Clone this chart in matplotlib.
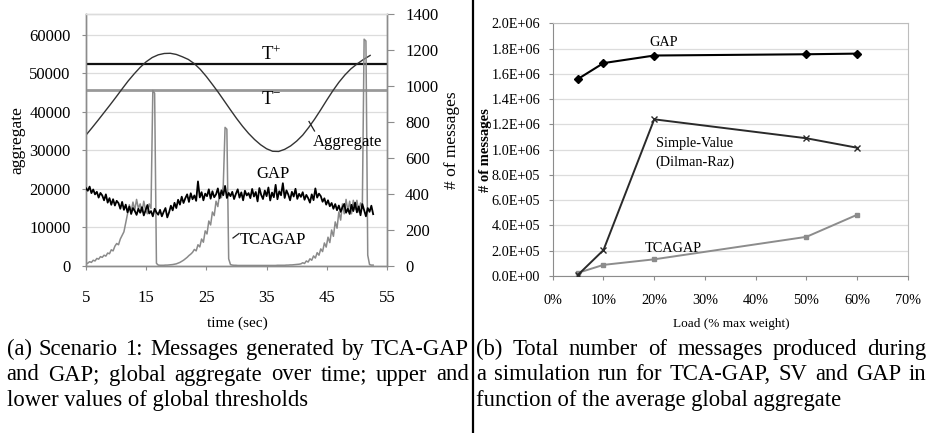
import numpy as np
import matplotlib
matplotlib.use("Agg")
import matplotlib.pyplot as plt

plt.rcParams['font.family'] = ['Liberation Serif', 'DejaVu Serif']
plt.rcParams['mathtext.fontset'] = 'custom'
plt.rcParams['mathtext.rm'] = 'Liberation Serif'

W, H = 930, 433

# ---------------- data: panel (a) ----------------
agg_time = [5, 6, 7, 8, 9, 10, 11, 12, 13, 14, 15, 16, 17, 18, 19, 20, 21, 22, 23, 24,
            25, 26, 27, 28, 29, 30, 31, 32, 33, 34, 35, 36, 37, 38, 39, 40, 41, 42, 43,
            44, 45, 46, 47, 48, 49, 50, 51, 52, 52.2]
agg_value = [34000, 35900, 37850, 39850, 41850, 43900, 46000, 48050, 49900, 51600,
             53050, 54150, 54850, 55200, 55250, 54950, 54350, 53650, 52550, 51050,
             49200, 47150, 45050, 42800, 40550, 38350, 36300, 34450, 32850, 31500,
             30450, 29800, 29750, 30300, 31200, 32450, 34000, 36000, 38200, 40600,
             43100, 45500, 47700, 49600, 51200, 52450, 53550, 54500, 54700]
t_plus = 52390
t_minus = 45710

msg_t0 = 5.0
msg_dt = 0.3
gap_msgs = [432, 418, 441, 405, 425, 398, 412, 380, 406, 392,
            365, 398, 352, 377, 340, 371, 336, 362, 349, 318,
            356, 312, 341, 298, 330, 289, 322, 306, 284, 318,
            296, 327, 281, 310, 339, 292, 305, 276, 318, 298,
            285, 312, 276, 301, 322, 270, 298, 335, 309, 351,
            322, 368, 341, 385, 350, 377, 398, 356, 404, 371,
            392, 362, 470, 381, 410, 365, 402, 388, 426, 374,
            415, 382, 398, 431, 376, 420, 393, 445, 378, 406,
            388, 412, 372, 401, 426, 380, 409, 365, 418, 392,
            405, 377, 428, 386, 411, 359, 433, 395, 372, 419,
            388, 436, 364, 408, 382, 451, 371, 415, 393, 460,
            378, 420, 397, 365, 412, 386, 429, 373, 401, 384,
            410, 368, 395, 377, 352, 398, 366, 431, 380, 402,
            388, 357, 376, 341, 365, 332, 350, 318, 344, 310,
            336, 301, 327, 345, 296, 318, 289, 340, 305, 352,
            298, 331, 282, 344, 309, 276, 322, 301, 335, 288]
tcagap_msgs = [10, 16, 24, 20, 32, 28, 42, 38, 52, 48,
               60, 55, 72, 68, 90, 84, 110, 125, 118, 150,
               170, 190, 240, 290, 340, 300, 355, 310, 370, 320,
               345, 300, 360, 310, 290, 345, 320, 975, 960, 15,
               5, 4, 4, 4, 5, 5, 6, 7, 8, 10,
               12, 16, 20, 26, 32, 40, 48, 58, 66, 76,
               92, 84, 118, 106, 150, 132, 195, 178, 250, 228,
               300, 280, 360, 330, 405, 380, 445, 770, 760, 40,
               8, 5, 4, 4, 3, 3, 3, 3, 3, 3,
               3, 3, 3, 3, 3, 3, 3, 3, 3, 3,
               3, 3, 3, 3, 3, 3, 4, 4, 4, 4,
               4, 5, 5, 6, 6, 7, 8, 9, 10, 12,
               18, 14, 28, 22, 40, 32, 56, 44, 74, 60,
               95, 80, 128, 105, 160, 130, 200, 165, 245, 210,
               300, 255, 345, 290, 370, 305, 360, 290, 365, 315,
               365, 300, 350, 320, 1260, 1250, 60, 8, 5, 5]
a_xticks = [5, 15, 25, 35, 45, 55]
a_lticks = [0, 10000, 20000, 30000, 40000, 50000, 60000]
a_rticks = [0, 200, 400, 600, 800, 1000, 1200, 1400]

# ---------------- data: panel (b) ----------------
load_pct = [5, 10, 20, 50, 60]
gap_total = [1.56e6, 1.685e6, 1.745e6, 1.755e6, 1.76e6]
sv_total = [1.0e4, 2.05e5, 1.24e6, 1.09e6, 1.015e6]
tca_total = [2.5e4, 8.8e4, 1.32e5, 3.1e5, 4.85e5]
b_xticks = [0, 10, 20, 30, 40, 50, 60, 70]
b_yticks = [0, 2e5, 4e5, 6e5, 8e5, 1.0e6, 1.2e6, 1.4e6, 1.6e6, 1.8e6, 2.0e6]

caption_a = ["(a) Scenario 1: Messages generated by TCA-GAP",
             "and GAP; global aggregate over time; upper and",
             "lower values of global thresholds"]
caption_b = ["(b) Total number of messages produced during",
             "a simulation run for TCA-GAP, SV and GAP in",
             "function of the average global aggregate"]

fig = plt.figure(figsize=(W / 100, H / 100), dpi=100)


def fx(px):
    return px / W


def fy(py):
    return 1 - py / H


def box(l, t, r, b):
    return [fx(l), fy(b), fx(r) - fx(l), fy(t) - fy(b)]


grey_spine = '#8c8c8c'
grid_c = '#dcdcdc'

# ---------------- panel (a) ----------------
ax = fig.add_axes(box(86, 14, 387, 266))
ax2 = ax.twinx()
ax.set_xlim(5, 55)
ax.set_ylim(0, 65454)
ax2.set_ylim(0, 1400)
ax.set_xticks(a_xticks)
ax.set_yticks(a_lticks)
ax2.set_yticks(a_rticks)
for a in (ax, ax2):
    for s in a.spines.values():
        s.set_color(grey_spine)
        s.set_linewidth(1.0)
    a.spines['top'].set_color(grid_c)
ax.yaxis.grid(True, color=grid_c, lw=0.9)
ax.set_axisbelow(True)
ax.tick_params(axis='both', labelsize=12, color=grey_spine, length=3, width=0.8)
ax.tick_params(axis='x', pad=14)
ax.tick_params(axis='y', pad=8)
ax2.tick_params(axis='y', labelsize=12, color=grey_spine, length=5, width=0.8, pad=8)

ax.axhline(t_plus, color='#111111', lw=1.6, zorder=3)
ax.axhline(t_minus, color='#999999', lw=2.0, zorder=3)
ax.plot(agg_time, agg_value, color='#333333', lw=1.0, zorder=4)

n = len(gap_msgs)
msg_time = msg_t0 + msg_dt * np.arange(n)
ax2.plot(msg_time, tcagap_msgs, color='#8a8a8a', lw=1.1, zorder=2)
ax2.plot(msg_time, gap_msgs, color='#000000', lw=1.3, zorder=3)

fig.text(fx(17), fy(140), 'aggregate', rotation=90, ha='center', va='center', fontsize=12.5)
fig.text(fx(452), fy(140), '# of messages', rotation=90, ha='center', va='center', fontsize=12.5)
fig.text(fx(237), fy(323), 'time (sec)', ha='center', va='center', fontsize=11)

fig.text(fx(261), fy(54.5), r'$\mathregular{T^{+}}$', ha='left', va='center', fontsize=13.5)
fig.text(fx(261), fy(99), r'$\mathregular{T^{-}}$', ha='left', va='center', fontsize=13.5)
fig.text(fx(272.5), fy(174), 'GAP', ha='center', va='center', fontsize=12)
fig.text(fx(239.5), fy(240), 'TCAGAP', ha='left', va='center', fontsize=12)
fig.text(fx(313), fy(142), 'Aggregate', ha='left', va='center', fontsize=12)
fig.add_artist(plt.Line2D([fx(309), fx(314.5)], [fy(121.5), fy(131)], color='#222222', lw=0.9))
fig.add_artist(plt.Line2D([fx(233), fx(239)], [fy(238), fy(233.5)], color='#222222', lw=0.9))

# ---------------- panel (b) ----------------
bx = fig.add_axes(box(552.7, 23.3, 908, 276))
bx.set_xlim(0, 70)
bx.set_ylim(0, 2.0e6)
bx.set_xticks(b_xticks)
bx.set_yticks(b_yticks)
bx.set_xticklabels([f"{v:.0f}%" for v in b_xticks])
bx.set_yticklabels([f"{v:.1E}" for v in b_yticks])
for s in bx.spines.values():
    s.set_color(grey_spine)
bx.spines['top'].set_color('#bdbdbd')
bx.spines['right'].set_color('#bdbdbd')
bx.yaxis.grid(True, color=grid_c, lw=0.9)
bx.set_axisbelow(True)
bx.tick_params(axis='both', labelsize=10.3, color=grey_spine, length=3, width=0.8)
bx.tick_params(axis='x', pad=10)
bx.tick_params(axis='y', pad=6)

bx.plot(load_pct, gap_total, color='#000000', lw=1.5, marker='D', ms=3.8, zorder=4)
bx.plot(load_pct, sv_total, color='#2a2a2a', lw=1.4, marker='x', ms=5, mew=1.0, zorder=3)
bx.plot(load_pct, tca_total, color='#8c8c8c', lw=1.4, marker='s', ms=3.2, zorder=2)

fig.text(fx(485), fy(150), '# of messages', rotation=90, ha='center', va='center',
         fontsize=10.5, fontweight='bold')
fig.text(fx(731), fy(323.5), 'Load (% max weight)', ha='center', va='center', fontsize=9.5)
fig.text(fx(664), fy(43), 'GAP', ha='center', va='center', fontsize=10.3)
fig.text(fx(655.5), fy(143), 'Simple-Value', ha='left', va='center', fontsize=10.3)
fig.text(fx(655.5), fy(162), '(Dilman-Raz)', ha='left', va='center', fontsize=10.3)
fig.text(fx(645), fy(248), 'TCAGAP', ha='left', va='center', fontsize=10.3)

# divider
fig.add_artist(plt.Line2D([fx(473), fx(473)], [0, 1], color='black', lw=1.6))

# ---------------- captions (justified) ----------------
renderer = fig.canvas.get_renderer()
cap_size = 16.3


def put_line(text, x0, x1, ybase, justify):
    if not justify:
        fig.text(fx(x0), fy(ybase), text, fontsize=cap_size, ha='left', va='baseline')
        return
    words = text.split(' ')
    objs = [fig.text(fx(x0), fy(ybase), w, fontsize=cap_size, ha='left', va='baseline')
            for w in words]
    widths = [o.get_window_extent(renderer).width for o in objs]
    gap = (x1 - x0 - sum(widths)) / (len(words) - 1)
    x = x0
    for o, w in zip(objs, widths):
        o.set_x(fx(x))
        x += w + gap


bases = [355, 380.5, 406]
for i, line in enumerate(caption_a):
    put_line(line, 6.5, 469, bases[i], i < 2)
for i, line in enumerate(caption_b):
    put_line(line, 476, 926.5, bases[i], i < 2)

fig.savefig('out.png', dpi=100)
